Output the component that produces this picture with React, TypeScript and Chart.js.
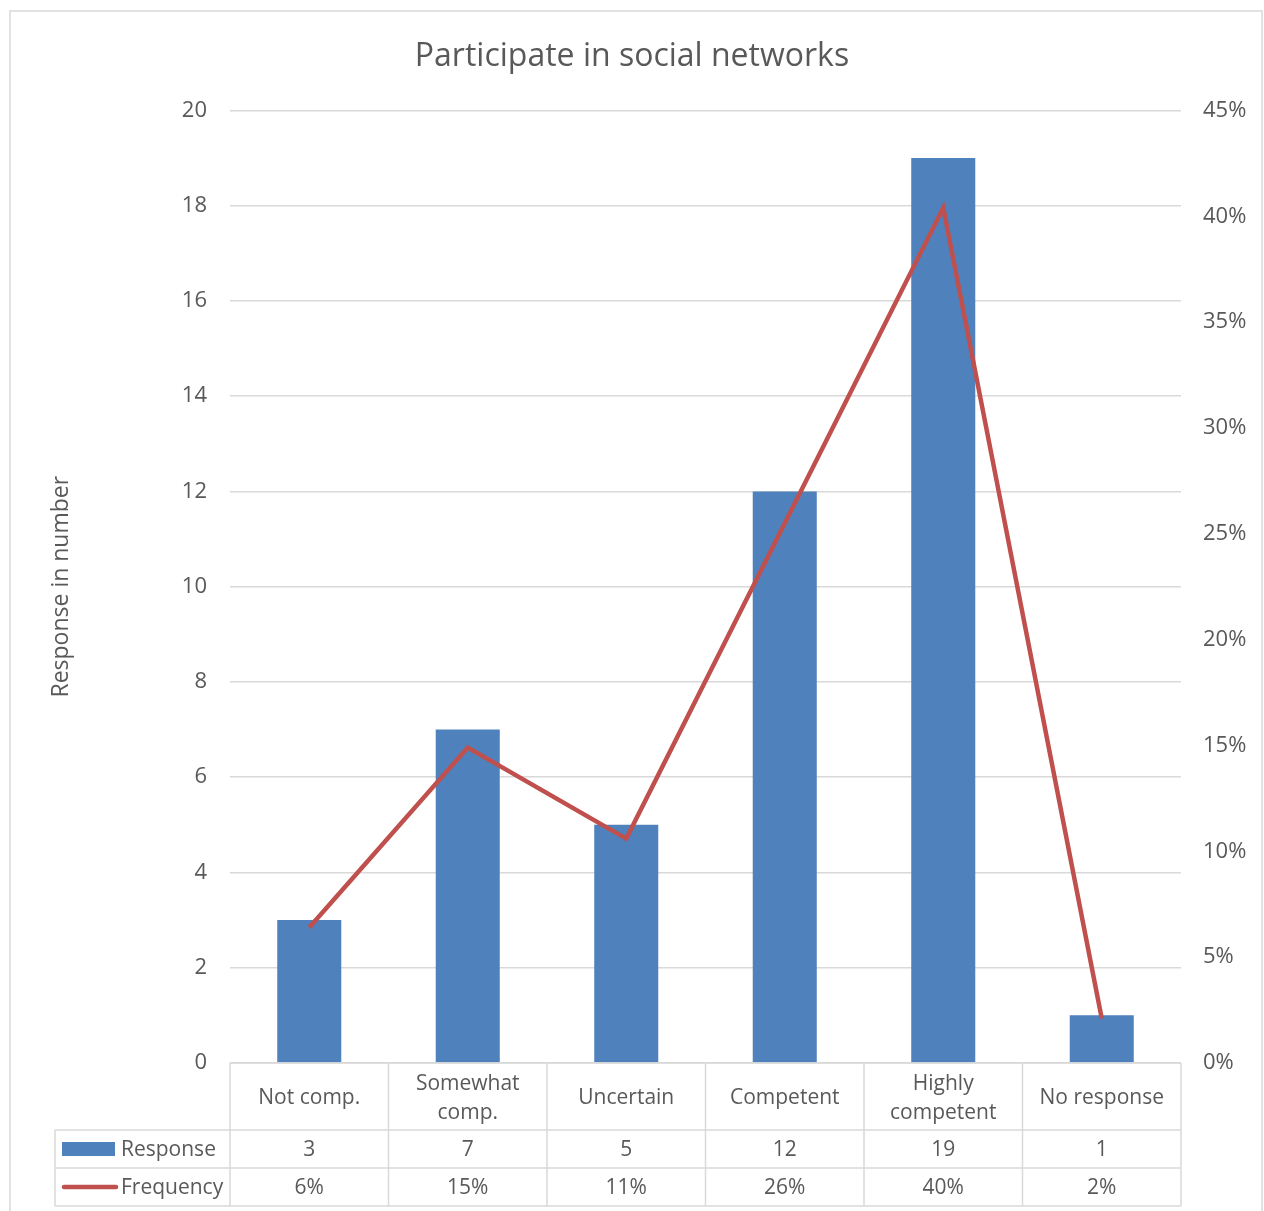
import React, { useEffect, useRef } from "react";
import { Chart, registerables } from "chart.js";

Chart.register(...registerables);

const TITLE = "Participate in social networks";
const Y_TITLE = "Response in number";
const categories: string[][] = [
  ["Not comp."],
  ["Somewhat", "comp."],
  ["Uncertain"],
  ["Competent"],
  ["Highly", "competent"],
  ["No response"],
];
const responses = [3, 7, 5, 12, 19, 1];
const frequencies = [0.064, 0.149, 0.106, 0.255, 0.404, 0.021];
const seriesNames = ["Response", "Frequency"];

const BLUE = "#4f81bd";
const RED = "#c0504d";
const GRID = "#d9d9d9";
const TEXT = "#595959";
const FONT = "'Open Sans', sans-serif";

const W = 1264;
const H = 1211;

const pct = (v: number) => Math.round(v * 100) + "%";

const tablePlugin = {
  id: "dataTable",
  beforeDraw(chart: any) {
    const ctx = chart.ctx;
    ctx.save();
    ctx.fillStyle = "#ffffff";
    ctx.fillRect(0, 0, chart.width, chart.height);
    ctx.strokeStyle = GRID;
    ctx.lineWidth = 1.5;
    ctx.strokeRect(10, 11, 1252, 1400);
    ctx.restore();
  },
  afterDraw(chart: any) {
    const ctx = chart.ctx;
    const area = chart.chartArea;
    const x = chart.scales.x;
    const n = categories.length;
    const cw = (area.right - area.left) / n;
    const top = area.bottom;
    const r1 = top + 67;
    const r2 = r1 + 38;
    const r3 = r2 + 38;
    const legLeft = 55;
    const dy = 2;

    ctx.save();
    ctx.strokeStyle = GRID;
    ctx.lineWidth = 1.5;
    ctx.beginPath();
    ctx.moveTo(area.left, top);
    ctx.lineTo(area.right, top);
    [r1, r2, r3].forEach((y) => {
      ctx.moveTo(legLeft, y);
      ctx.lineTo(area.right, y);
    });
    for (let i = 0; i <= n; i++) {
      const xx = area.left + i * cw;
      ctx.moveTo(xx, top);
      ctx.lineTo(xx, r3);
    }
    ctx.moveTo(legLeft, r1);
    ctx.lineTo(legLeft, r3);
    ctx.stroke();

    ctx.fillStyle = TEXT;
    ctx.font = `21px ${FONT}`;
    ctx.textAlign = "center";
    ctx.textBaseline = "middle";
    const hc = (top + r1) / 2;
    categories.forEach((lines, i) => {
      const cx = x.getPixelForValue(i);
      const lh = 29;
      const start = hc - ((lines.length - 1) * lh) / 2;
      lines.forEach((t, j) => ctx.fillText(t, cx, start + j * lh + dy));
      ctx.fillText(String(responses[i]), cx, (r1 + r2) / 2 + 1);
      ctx.fillText(pct(frequencies[i]), cx, (r2 + r3) / 2 + 1);
    });

    // legend keys
    const y1 = (r1 + r2) / 2;
    const y2 = (r2 + r3) / 2;
    ctx.fillStyle = BLUE;
    ctx.fillRect(62, y1 - 7, 53, 14);
    ctx.strokeStyle = RED;
    ctx.lineWidth = 4.5;
    ctx.lineCap = "round";
    ctx.beginPath();
    ctx.moveTo(64, y2);
    ctx.lineTo(116, y2);
    ctx.stroke();
    ctx.fillStyle = TEXT;
    ctx.textAlign = "left";
    ctx.fillText(seriesNames[0], 121, y1 + 1);
    ctx.fillText(seriesNames[1], 121, y2 + 1);
    ctx.restore();
  },
};

export default function App() {
  const ref = useRef<HTMLCanvasElement>(null);

  useEffect(() => {
    document.body.style.margin = "0";
    const canvas = ref.current!;
    const chart = new Chart(canvas, {
      type: "bar",
      data: {
        labels: categories.map((c) => c.join(" ")),
        datasets: [
          {
            type: "line",
            label: seriesNames[1],
            data: frequencies,
            yAxisID: "y1",
            borderColor: RED,
            backgroundColor: RED,
            borderWidth: 4.5,
            pointRadius: 0,
            borderJoinStyle: "miter",
            tension: 0,
            order: 0,
          } as any,
          {
            type: "bar",
            label: seriesNames[0],
            data: responses,
            yAxisID: "y",
            backgroundColor: BLUE,
            borderWidth: 0,
            barPercentage: 0.404,
            categoryPercentage: 1,
            order: 1,
          },
        ],
      },
      options: {
        responsive: false,
        animation: false,
        layout: { padding: 0 },
        plugins: {
          legend: { display: false },
          tooltip: { enabled: false },
          title: {
            display: true,
            text: TITLE,
            color: TEXT,
            font: { family: FONT, size: 32, weight: "normal" },
            padding: { top: 38, bottom: 34 },
          },
        },
        scales: {
          x: {
            display: true,
            offset: true,
            grid: { display: false },
            border: { display: false },
            ticks: { display: false },
            afterFit: (s: any) => {
              s.height = H - 1063;
            },
          },
          y: {
            position: "left",
            min: 0,
            max: 20,
            ticks: {
              stepSize: 2,
              padding: 23,
              color: TEXT,
              font: { family: FONT, size: 22 },
            },
            grid: { color: GRID, lineWidth: 1.5, drawTicks: false },
            border: { display: false },
            title: {
              display: true,
              text: Y_TITLE,
              color: TEXT,
              font: { family: FONT, size: 23, weight: "normal" },
              padding: { top: 48, bottom: 0 },
            },
            afterFit: (s: any) => {
              s.width = 230;
            },
          },
          y1: {
            position: "right",
            min: 0,
            max: 0.45,
            ticks: {
              stepSize: 0.05,
              padding: 22,
              color: TEXT,
              font: { family: FONT, size: 22 },
              callback: (v: any) => pct(Number(v)),
            },
            grid: { display: false, drawTicks: false },
            border: { display: false },
            afterFit: (s: any) => {
              s.width = W - 1181;
            },
          },
        },
      },
      plugins: [tablePlugin],
    });
    return () => chart.destroy();
  }, []);

  return <canvas ref={ref} width={W} height={H} style={{ display: "block" }} />;
}
